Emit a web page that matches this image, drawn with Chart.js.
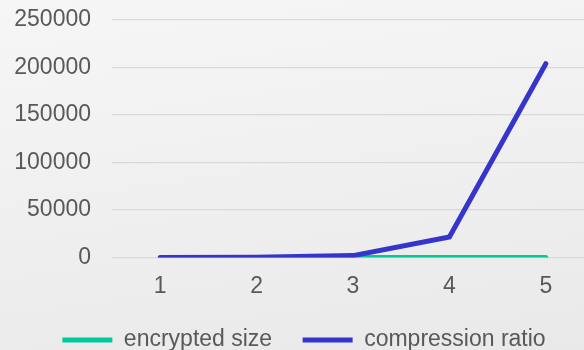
<!DOCTYPE html>
<html>
<head>
<meta charset="utf-8">
<script src="https://cdn.jsdelivr.net/npm/chart.js@4/dist/chart.umd.min.js"></script>
<style>
  html, body { margin: 0; padding: 0; }
  #wrap {
    width: 584px; height: 350px; overflow: hidden;
    background: linear-gradient(172deg, #f6f6f6 0%, #efefef 55%, #e9e9e9 100%);
  }
  canvas { display: block; }
</style>
</head>
<body>
<div id="wrap"><canvas id="c" width="594" height="350"></canvas></div>
<script>
// Block index on the x axis
const categories = ['1', '2', '3', '4', '5'];
// Size of the encrypted output (tiny on this scale)
const encryptedSize = [100, 100, 100, 100, 100];
// Compression ratio per block
const compressionRatio = [50, 250, 2000, 21500, 204000];
// Value axis ticks
const yTicks = [0, 50000, 100000, 150000, 200000, 250000];

const FONT = { family: '"Liberation Sans", Arial, sans-serif', size: 23 };
const TEXT = '#595959';

new Chart(document.getElementById('c'), {
  type: 'line',
  data: {
    labels: categories,
    datasets: [
      {
        label: 'encrypted size',
        data: encryptedSize,
        borderColor: '#00c99a',
        backgroundColor: '#00c99a',
        borderWidth: 5,
        borderCapStyle: 'round',
        pointRadius: 0,
        tension: 0,
        order: 1
      },
      {
        label: 'compression ratio',
        data: compressionRatio,
        borderColor: '#3535cc',
        backgroundColor: '#3535cc',
        borderWidth: 5,
        borderCapStyle: 'round',
        pointRadius: 0,
        tension: 0,
        order: 0
      }
    ]
  },
  options: {
    responsive: false,
    animation: false,
    events: [],
    layout: { padding: { left: 14, top: 20, right: 0, bottom: -11.5 } },
    plugins: {
      tooltip: { enabled: false },
      legend: {
        position: 'bottom',
        labels: {
          usePointStyle: true,
          pointStyle: 'line',
          pointStyleWidth: 50,
          padding: 30.5,
          color: TEXT,
          font: FONT,
          sort: (a, b) => a.datasetIndex - b.datasetIndex
        }
      }
    },
    scales: {
      x: {
        offset: true,
        grid: { display: false, drawTicks: false },
        border: { display: false },
        ticks: { color: TEXT, font: FONT, padding: 15.7, maxRotation: 0 },
        afterFit: (scale) => { scale.height = 40.5; }
      },
      y: {
        min: yTicks[0],
        max: yTicks[yTicks.length - 1],
        afterBuildTicks: (scale) => { scale.ticks = yTicks.map(v => ({ value: v })); },
        grid: { color: '#d9d9d9', lineWidth: 1.2, drawTicks: false },
        border: { display: false },
        ticks: { color: TEXT, font: FONT, padding: 21, callback: (v) => String(v) },
        afterFit: (scale) => {
          scale.width = 98;
          scale.paddingTop = 0;
          scale.paddingBottom = 0;
        }
      }
    }
  }
});
</script>
</body>
</html>
